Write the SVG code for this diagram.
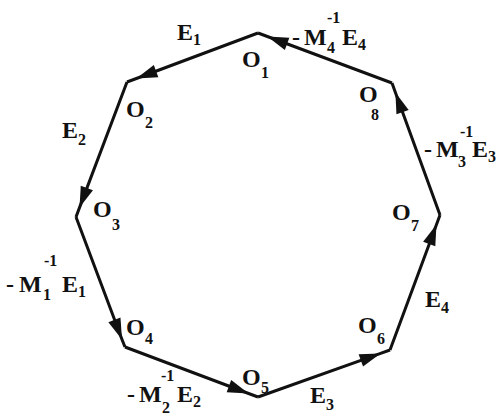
<svg xmlns="http://www.w3.org/2000/svg" width="501" height="416" viewBox="0 0 501 416">
<style>
.e{fill:none;stroke:#111;stroke-width:3;stroke-linejoin:miter;marker-mid:url(#ah)}
text{font-family:"Liberation Serif","Times New Roman",serif;font-weight:bold;fill:#111}
.m{font-size:24px}
.s{font-size:16px}
</style>
<defs>
<marker id="ah" markerUnits="userSpaceOnUse" markerWidth="24" markerHeight="16" viewBox="-22 -8 24 16" refX="0" refY="0" orient="auto">
<path d="M0,0 L-21,-6.5 L-21,6.5 z" fill="#111"/>
</marker>
</defs>
<rect width="501" height="416" fill="#fff"/>
<g id="connectors">
<path class="e" d="M258,33 L136.4,78.5 L127,82"/>
<path class="e" d="M127,82 L79.5,207.6 L76,217"/>
<path class="e" d="M76,217 L122,339.5 L125,347"/>
<path class="e" d="M125,347 L248.6,393.5 L258,397"/>
<path class="e" d="M258,397 L380.6,353.4 L390,350"/>
<path class="e" d="M390,350 L436.5,224.4 L440,215"/>
<path class="e" d="M440,215 L395.4,92.4 L392,83"/>
<path class="e" d="M392,83 L267.4,36.5 L258,33"/>
</g>
<g id="O1"><text class="m" x="242" y="67">O</text><text class="s" x="261" y="78">1</text></g>
<g id="O2"><text class="m" x="126" y="117">O</text><text class="s" x="145" y="128">2</text></g>
<g id="O3"><text class="m" x="93" y="217">O</text><text class="s" x="112" y="230">3</text></g>
<g id="O4"><text class="m" x="126" y="335">O</text><text class="s" x="145" y="344">4</text></g>
<g id="O5"><text class="m" x="242" y="385">O</text><text class="s" x="261" y="393">5</text></g>
<g id="O6"><text class="m" x="358" y="333">O</text><text class="s" x="377" y="344">6</text></g>
<g id="O7"><text class="m" x="392" y="220">O</text><text class="s" x="411" y="231">7</text></g>
<g id="O8"><text class="m" x="359" y="102">O</text><text class="s" x="371" y="120">8</text></g>
<g id="E1"><text class="m" x="177" y="40">E</text><text class="s" x="193" y="45">1</text></g>
<g id="E2"><text class="m" x="62" y="138">E</text><text class="s" x="78" y="145">2</text></g>
<g id="E3"><text class="m" x="310" y="403">E</text><text class="s" x="326" y="410">3</text></g>
<g id="E4"><text class="m" x="425" y="307">E</text><text class="s" x="441" y="313">4</text></g>
<g id="M1E1"><text class="m" x="6" y="292">-</text><text class="m" x="19" y="292">M</text><text class="s" x="44" y="266">-1</text><text class="s" x="43" y="300">1</text><text class="m" x="62" y="292">E</text><text class="s" x="78" y="297">1</text></g>
<g id="M2E2"><text class="m" x="127" y="402">-</text><text class="m" x="139" y="402">M</text><text class="s" x="161" y="381">-1</text><text class="s" x="162" y="413">2</text><text class="m" x="177" y="402">E</text><text class="s" x="193" y="407">2</text></g>
<g id="M3E3"><text class="m" x="424" y="157">-</text><text class="m" x="436" y="157">M</text><text class="s" x="460" y="137">-1</text><text class="s" x="458" y="167">3</text><text class="m" x="472" y="157">E</text><text class="s" x="488" y="162">3</text></g>
<g id="M4E4"><text class="m" x="292" y="45">-</text><text class="m" x="304" y="45">M</text><text class="s" x="327" y="23">-1</text><text class="s" x="327" y="53">4</text><text class="m" x="342" y="45">E</text><text class="s" x="358" y="50">4</text></g>
</svg>
